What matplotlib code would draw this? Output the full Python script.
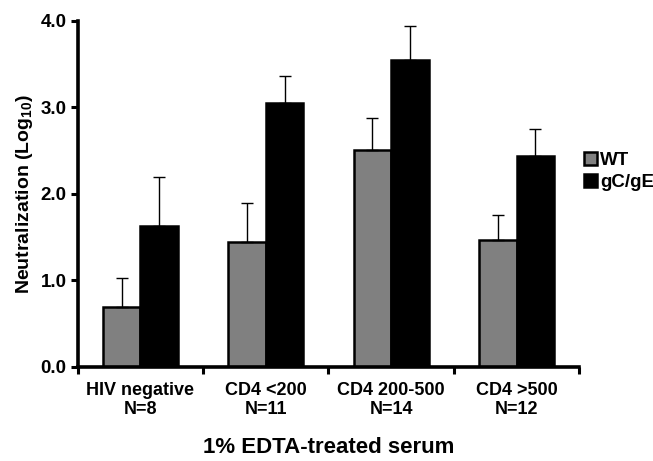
import matplotlib
matplotlib.use("Agg")
import matplotlib.pyplot as plt
import numpy as np

plt.rcParams['font.family'] = ['Liberation Sans', 'DejaVu Sans']
plt.rcParams['font.weight'] = 'bold'
plt.rcParams['mathtext.fontset'] = 'custom'
plt.rcParams['mathtext.rm'] = 'Liberation Sans:bold'
plt.rcParams['mathtext.bf'] = 'Liberation Sans:bold'

categories = ["HIV negative\nN=8", "CD4 <200\nN=11", "CD4 200-500\nN=14", "CD4 >500\nN=12"]
wt_values = [0.69, 1.44, 2.50, 1.46]
wt_err = [0.33, 0.45, 0.37, 0.29]
gcge_values = [1.63, 3.05, 3.55, 2.44]
gcge_err = [0.56, 0.31, 0.39, 0.31]
series_labels = ["WT", "gC/gE"]
yticks = [0.0, 1.0, 2.0, 3.0, 4.0]

fig = plt.figure(figsize=(6.53, 4.61), dpi=100)
ax = fig.add_axes([0.119, 0.2046, 0.768, 0.7504])

x = np.arange(len(categories)) + 0.5
w = 0.3
ax.bar(x - w/2, wt_values, w, color='#808080', edgecolor='black', linewidth=1.8,
       yerr=[np.zeros(4), wt_err], error_kw=dict(ecolor='black', elinewidth=1.0, capsize=4, capthick=1.0),
       label=series_labels[0], zorder=2)
ax.bar(x + w/2, gcge_values, w, color='black', edgecolor='black', linewidth=1.8,
       yerr=[np.zeros(4), gcge_err], error_kw=dict(ecolor='black', elinewidth=1.0, capsize=4, capthick=1.0),
       label=series_labels[1], zorder=2)

ax.set_xlim(0, 4)
ax.set_ylim(0, 4)
ax.set_yticks(yticks)
ax.set_yticklabels([f"{v:.1f}" for v in yticks], fontsize=13.5, fontweight='bold')
ax.set_xticks(np.arange(0, 5))
ax.set_xticklabels([])
ax.set_xticks(x, minor=True)
ax.set_xticklabels(categories, minor=True, fontsize=13, fontweight='bold', linespacing=1.15)
ax.tick_params(axis='x', which='minor', length=0, pad=11)
ax.tick_params(axis='both', which='major', width=2.2, length=5)
ax.tick_params(axis='y', which='major', pad=3)
for s in ['top', 'right']:
    ax.spines[s].set_visible(False)
for s in ['left', 'bottom']:
    ax.spines[s].set_linewidth(2.6)

ax.set_ylabel(r"Neutralization (Log$_{10}$)", fontsize=14, fontweight='bold', labelpad=4)
ax.set_xlabel("1% EDTA-treated serum", fontsize=16, fontweight='bold', labelpad=14)

leg = ax.legend(loc='center left', bbox_to_anchor=(0.995, 0.565), frameon=False,
                fontsize=13.5, handlelength=0.7, handleheight=0.7, handletextpad=0.15,
                labelspacing=0.25, borderaxespad=0)
for t in leg.get_texts():
    t.set_fontweight('bold')

fig.savefig("out.png", dpi=100)
